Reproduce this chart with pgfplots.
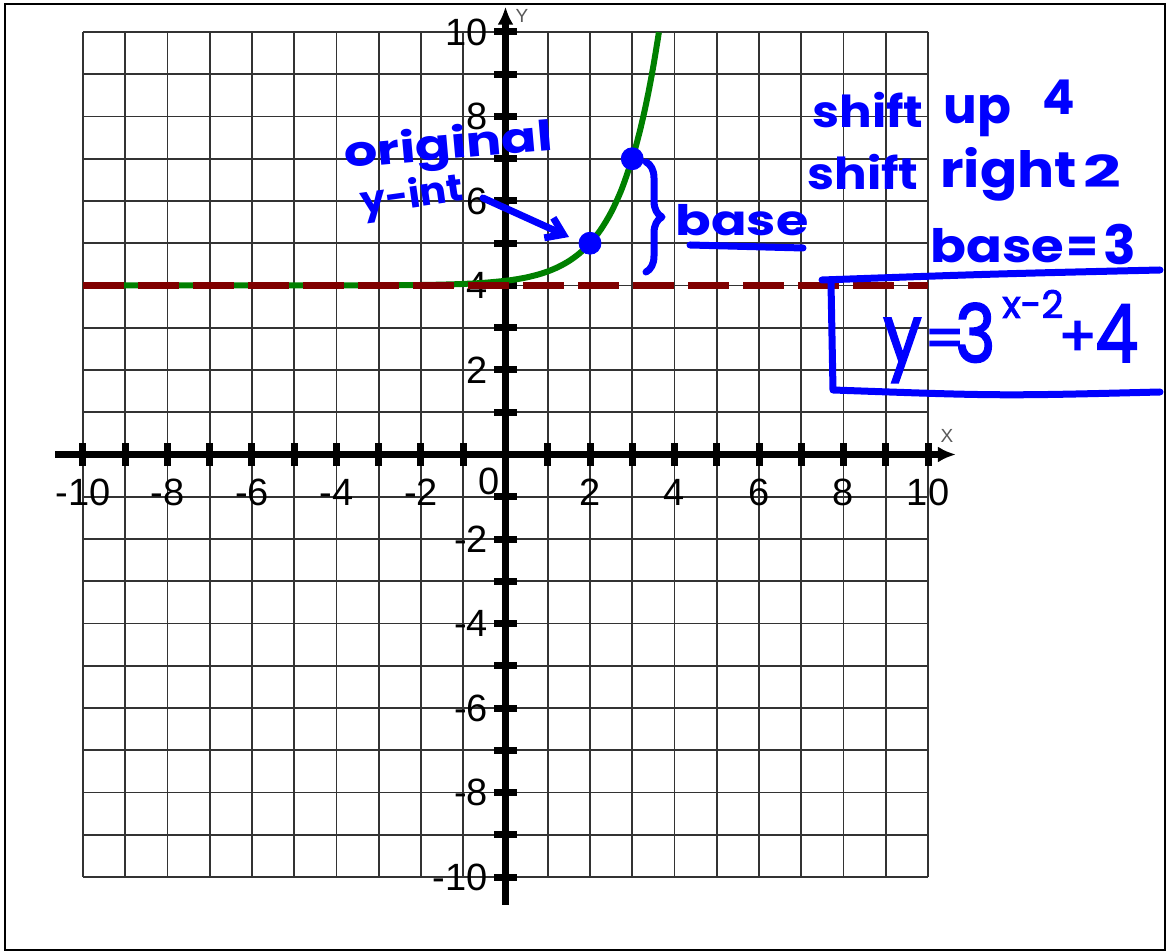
\documentclass[border=0pt]{standalone}
\usepackage{pgfplots}
\pgfplotsset{compat=1.18}
\usepackage{fontspec}
\setmainfont{Liberation Sans}
\newfontfamily\hand{Poppins}
\newfontfamily\handpen{Poppins}[FakeBold=2.5]
\usetikzlibrary{arrows.meta,decorations.pathreplacing}

\definecolor{curvegreen}{RGB}{0,128,0}
\definecolor{asymred}{RGB}{128,0,0}
\definecolor{ink}{RGB}{0,0,255}

\newcommand\hw[1]{\fontsize{#1}{#1}\selectfont\hand\bfseries}
\newcommand\hwr[1]{\fontsize{#1}{#1}\selectfont\handpen}
\tikzset{
  gridline/.style={black!80, line width=0.9pt},
  pen/.style={ink, line width=3.5pt, line cap=round, line join=round},
  note/.style={ink, anchor=base west, inner sep=0pt},
}

\begin{document}
\begin{tikzpicture}
% page coordinates: origin at the top-left corner, one unit = 0.5pt, y downward
\begin{scope}[shift={(-252.75pt,227.25pt)}, x=0.5pt, y=-0.5pt]
  \path[use as bounding box] (0,0) rectangle (1166,952);
  \draw[line width=1pt] (5,4) rectangle (1165,950);
  % unit grid from -10 to 10
  \foreach \i in {0,...,20} {
    \draw[gridline] ({83+42.25*\i},32) -- ({83+42.25*\i},877);
    \draw[gridline] (83,{32+42.25*\i}) -- (928,{32+42.25*\i});
  }
\end{scope}

\begin{axis}[
  at={(0,0)}, anchor=origin,
  x=21.125pt, y=21.125pt,
  xmin=-10.66, xmax=10.66, ymin=-10.66, ymax=10.6,
  axis lines=middle,
  axis line style={line width=3.5pt, -{Latex[length=9pt,width=8pt]}},
  xtick={-10,...,10}, ytick={-10,...,10},
  hide obscured x ticks=false, hide obscured y ticks=false,
  tick align=center, major tick length=11.5pt,
  tick style={line width=3.5pt, black},
  xticklabels={{-10},{},{-8},{},{-6},{},{-4},{},{-2},{},{},{},{2},{},{4},{},{6},{},{8},{},{10}},
  yticklabels={{-10},{},{-8},{},{-6},{},{-4},{},{-2},{},{},{},{2},{},{4},{},{6},{},{8},{},{10}},
  xticklabel style={font=\fontsize{19}{22}\selectfont, anchor=north, inner sep=0pt, yshift=-6.5pt},
  yticklabel style={font=\fontsize{19}{22}\selectfont, anchor=east, inner sep=0pt, xshift=-2.9pt},
  clip=false,
]
% y = 3^(x-2) + 4
\addplot[curvegreen, line width=3pt, smooth] coordinates {
  (-10,4.000) (-8,4.000) (-6,4.000) (-4,4.001) (-3,4.004) (-2,4.012)
  (-1.5,4.021) (-1,4.037) (-0.5,4.064) (0,4.111) (0.25,4.146) (0.5,4.192)
  (0.75,4.253) (1,4.333) (1.25,4.439) (1.5,4.577) (1.75,4.760) (2,5.000)
  (2.25,5.316) (2.5,5.732) (2.75,6.280) (3,7.000) (3.1,7.348) (3.2,7.737)
  (3.3,8.171) (3.4,8.656) (3.5,9.196) (3.6,9.800) (3.63,9.993)
};
% horizontal asymptote y = 4
\addplot[asymred, line width=3.5pt, dash pattern=on 20.5pt off 7pt] coordinates {(-10,4) (10,4)};
% marked points
\addplot[only marks, mark=*, mark size=5.5pt, mark options={draw=ink, fill=ink}] coordinates {(2,5) (3,7)};
\end{axis}

\begin{scope}[shift={(-252.75pt,227.25pt)}, x=0.5pt, y=-0.5pt]
  \node[font=\fontsize{19}{22}\selectfont, inner sep=0pt] at (489.5,481) {0};
  \node[text=black!65, font=\fontsize{9.5}{11}\selectfont, inner sep=0pt] at (947,436) {X};
  \node[text=black!65, font=\fontsize{9.5}{11}\selectfont, inner sep=0pt] at (522,16) {Y};

  % notes
  \node[note, rotate=5, xscale=1.25] at (345,168) {\hw{21}original};
  \node[note, rotate=8, xscale=1.05] at (362,215) {\hw{19}y-int};
  \draw[pen, -{Straight Barb[length=8pt,width=11pt]}] (483,198) -- (569,237);
  \draw[pen, decorate, decoration={brace, amplitude=8pt}] (646,162) -- (646,272);
  \node[note, xscale=1.25] at (675,236) {\hw{21}base};
  \draw[pen] (690,245) -- (803,248);

  \node[note, xscale=1.1] at (812,128) {\hw{22}shift};
  \node[note] at (943,124) {\hw{25}up};
  \node[note] at (1042,115) {\hw{24}4};

  \node[note, xscale=1.1] at (807,190) {\hw{22}shift};
  \node[note, xscale=1.1] at (940,188) {\hw{25}right};
  \node[note, xscale=1.5] at (1083,188) {\hw{22}2};

  \node[note, xscale=1.15] at (930,263) {\hw{23}base};
  \node[note] at (1066,263) {\hw{23}=};
  \node[note] at (1103,265) {\hw{27}3};

  % boxed equation
  \draw[pen] (822,280) .. controls (990,274) .. (1160,270);
  \draw[pen] (831,283) -- (833,390) .. controls (1000,396) .. (1160,392);
  \node[note, xscale=0.85] at (883,362) {\hwr{40}y};
  \node[note] at (924,358) {\hwr{28}=};
  \node[note, xscale=0.85] at (955,362) {\hwr{40}3};
  \node[note] at (1002,318) {\hwr{19}x-2};
  \node[note] at (1058,356) {\hwr{28}+};
  \node[note, xscale=0.85] at (1095,362) {\hwr{40}4};
\end{scope}
\pgfresetboundingbox
\path[use as bounding box] (-252.75pt,227.25pt) rectangle (330.25pt,-248.75pt);
\end{tikzpicture}
\end{document}
